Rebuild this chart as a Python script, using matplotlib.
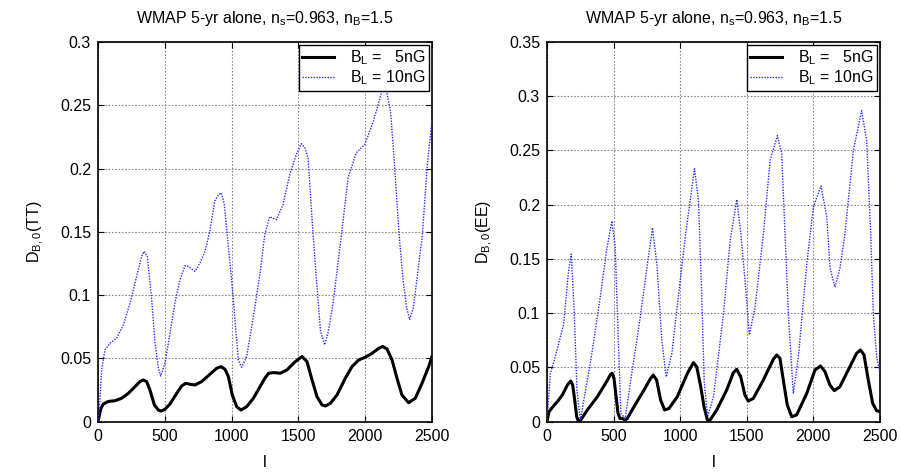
import matplotlib
matplotlib.use("Agg")
import matplotlib.pyplot as plt

plt.rcParams['font.family'] = ['Liberation Sans', 'DejaVu Sans']
plt.rcParams['mathtext.default'] = 'regular'

# ---- TT panel data ----
tt5_l = [0, 22, 40, 77, 127, 177, 227, 277, 314, 339, 364, 389, 422, 452, 472, 501, 539, 589,
         626, 656, 689, 726, 776, 838, 888, 921, 951, 976, 1005, 1038, 1070, 1113, 1163, 1213,
         1250, 1277, 1315, 1365, 1415, 1477, 1527, 1564, 1602, 1639, 1677, 1702, 1739, 1789,
         1851, 1901, 1951, 2001, 2051, 2101, 2131, 2163, 2201, 2238, 2275, 2325, 2375, 2425,
         2475, 2500]
tt5_v = [0.0, 0.0106, 0.014, 0.016, 0.0166, 0.0185, 0.0224, 0.0277, 0.0317, 0.033, 0.0317,
         0.025, 0.0132, 0.0092, 0.0084, 0.0098, 0.014, 0.0224, 0.0282, 0.0303, 0.0296, 0.029,
         0.0317, 0.0375, 0.0422, 0.0435, 0.0414, 0.0356, 0.0211, 0.0119, 0.0092, 0.0119, 0.0185,
         0.0277, 0.0345, 0.0383, 0.0388, 0.0383, 0.041, 0.0475, 0.0515, 0.0475, 0.033, 0.0198,
         0.0132, 0.0124, 0.0145, 0.0211, 0.0343, 0.0435, 0.0488, 0.0509, 0.054, 0.058, 0.0594,
         0.0575, 0.0488, 0.0343, 0.0211, 0.015, 0.0185, 0.0303, 0.0435, 0.0515]

tt10_l = [0, 10, 27, 52, 90, 140, 190, 240, 289, 327, 344, 369, 402, 427, 452, 469, 501, 539,
          576, 614, 651, 676, 726, 763, 801, 840, 873, 900, 923, 945, 973, 1013, 1050, 1075,
          1113, 1163, 1213, 1248, 1285, 1335, 1385, 1435, 1485, 1522, 1550, 1572, 1610, 1635,
          1665, 1697, 1725, 1759, 1822, 1872, 1934, 1997, 2059, 2100, 2133, 2160, 2190, 2221,
          2254, 2283, 2310, 2333, 2360, 2383, 2428, 2463, 2500]
tt10_v = [0.0, 0.0092, 0.041, 0.0567, 0.062, 0.066, 0.0765, 0.0937, 0.1148, 0.1306, 0.1346,
          0.1306, 0.0963, 0.062, 0.0422, 0.0361, 0.0462, 0.0699, 0.0937, 0.1121, 0.1232, 0.1227,
          0.1187, 0.1253, 0.1346, 0.152, 0.174, 0.179, 0.1808, 0.172, 0.142, 0.0963, 0.0488,
          0.043, 0.0515, 0.0831, 0.1174, 0.1476, 0.162, 0.1596, 0.1715, 0.1953, 0.2112, 0.2197,
          0.216, 0.2086, 0.1476, 0.112, 0.072, 0.0607, 0.072, 0.093, 0.1476, 0.1927, 0.2126,
          0.2192, 0.2364, 0.252, 0.2637, 0.261, 0.245, 0.2006, 0.1476, 0.112, 0.09, 0.0808, 0.09,
          0.109, 0.1476, 0.2006, 0.239]

# ---- EE panel data ----
ee5_l = [0, 15, 40, 78, 115, 153, 178, 193, 208, 223, 235, 253, 303, 378, 440, 478, 490, 503,
         516, 533, 548, 566, 586, 603, 653, 728, 778, 798, 823, 853, 883, 916, 978, 1054, 1099,
         1124, 1154, 1179, 1204, 1224, 1274, 1349, 1399, 1424, 1454, 1486, 1511, 1549, 1624,
         1699, 1724, 1749, 1774, 1804, 1837, 1874, 1950, 2012, 2054, 2087, 2124, 2157, 2199,
         2274, 2324, 2354, 2380, 2412, 2445, 2475, 2500]
ee5_v = [0.0, 0.0092, 0.0132, 0.0185, 0.0246, 0.0338, 0.0375, 0.0338, 0.020, 0.0046, 0.0006,
         0.0015, 0.0108, 0.023, 0.0354, 0.0437, 0.0446, 0.040, 0.0261, 0.0077, 0.003, 0.003,
         0.0015, 0.003, 0.0138, 0.0292, 0.040, 0.043, 0.0384, 0.020, 0.0108, 0.0123, 0.023,
         0.0446, 0.0544, 0.0507, 0.0323, 0.0138, 0.0015, 0.0015, 0.0108, 0.0292, 0.0452, 0.0483,
         0.0415, 0.0246, 0.019, 0.0215, 0.0384, 0.0575, 0.0615, 0.0584, 0.0384, 0.0154, 0.0046,
         0.0062, 0.0261, 0.0477, 0.0514, 0.0461, 0.0338, 0.0286, 0.0323, 0.0507, 0.063, 0.0661,
         0.0615, 0.0384, 0.0169, 0.0101, 0.0092]

ee10_l = [0, 25, 75, 125, 162, 182, 205, 225, 250, 325, 400, 450, 487, 512, 537, 555, 587, 625,
          700, 750, 792, 825, 862, 895, 937, 1000, 1037, 1107, 1137, 1162, 1180, 1205, 1250,
          1325, 1375, 1425, 1455, 1487, 1519, 1562, 1625, 1675, 1730, 1762, 1787, 1812, 1849,
          1887, 1950, 2000, 2057, 2100, 2125, 2162, 2200, 2237, 2300, 2362, 2400, 2430, 2450,
          2475, 2500]
ee10_v = [0.0, 0.0444, 0.0658, 0.090, 0.139, 0.1546, 0.0995, 0.029, 0.0015, 0.0536, 0.115,
          0.160, 0.185, 0.161, 0.069, 0.0077, 0.003, 0.035, 0.0964, 0.142, 0.1787, 0.145, 0.075,
          0.0413, 0.0628, 0.130, 0.1696, 0.2332, 0.204, 0.115, 0.038, 0.0046, 0.023, 0.0995,
          0.167, 0.2047, 0.1735, 0.130, 0.080, 0.1056, 0.1735, 0.2408, 0.2638, 0.247, 0.1735,
          0.0995, 0.026, 0.0597, 0.145, 0.198, 0.2173, 0.189, 0.142, 0.124, 0.142, 0.1735, 0.25,
          0.2867, 0.259, 0.1735, 0.0995, 0.0597, 0.0444]

x_ticks = [0, 500, 1000, 1500, 2000, 2500]
tt_yticks = [0, 0.05, 0.1, 0.15, 0.2, 0.25, 0.3]
tt_ylabels = ['0', '0.05', '0.1', '0.15', '0.2', '0.25', '0.3']
ee_yticks = [0, 0.05, 0.1, 0.15, 0.2, 0.25, 0.3, 0.35]
ee_ylabels = ['0', '0.05', '0.1', '0.15', '0.2', '0.25', '0.3', '0.35']

title = 'WMAP 5-yr alone, n$_s$=0.963, n$_B$=1.5'
label5 = 'B$_L$ =   5nG'
label10 = 'B$_L$ = 10nG'

fig = plt.figure(figsize=(9.01, 4.73), dpi=100)
ax1 = fig.add_axes([98/901, 1 - 421.7/473, 334/901, 379.7/473])
ax2 = fig.add_axes([547/901, 1 - 421.7/473, 333/901, 379.7/473])

panels = [
    (ax1, tt5_l, tt5_v, tt10_l, tt10_v, tt_yticks, tt_ylabels, 'D$_{B,0}$(TT)'),
    (ax2, ee5_l, ee5_v, ee10_l, ee10_v, ee_yticks, ee_ylabels, 'D$_{B,0}$(EE)'),
]

for ax, l5, v5, l10, v10, yt, yl, ylab in panels:
    ax.plot(l5, v5, color='black', lw=2.2, label=label5, zorder=3,
            solid_joinstyle='round')
    ax.plot(l10, v10, color='#2b2bff', lw=1.0, ls=(0, (1, 1)), label=label10, zorder=3)
    ax.set_xlim(0, 2500)
    ax.set_ylim(yt[0], yt[-1])
    ax.set_xticks(x_ticks)
    ax.set_xticklabels([str(t) for t in x_ticks])
    ax.set_yticks(yt)
    ax.set_yticklabels(yl)
    ax.tick_params(direction='in', top=True, right=True, labelsize=11.5, length=4, width=0.8,
                   pad=5)
    ax.grid(True, color='#888888', ls=(0, (1.5, 1.5)), lw=0.8)
    for s in ax.spines.values():
        s.set_linewidth(1.2)
    ax.set_xlabel('l', fontsize=11.5, labelpad=8)
    ax.set_ylabel(ylab, fontsize=11.5, labelpad=10)
    ax.set_title(title, fontsize=11.5, pad=14)
    leg = ax.legend(loc='upper right', fontsize=11.5, handlelength=2.0, fancybox=False,
                    framealpha=1, edgecolor='black', borderaxespad=0.2, borderpad=0.2,
                    labelspacing=0.1, handletextpad=1.0)
    leg.get_frame().set_linewidth(1.0)

fig.savefig('out.png', dpi=100)
